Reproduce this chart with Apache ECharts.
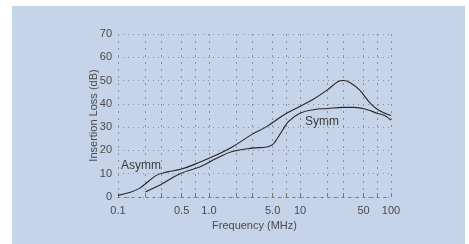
<!DOCTYPE html>
<html>
<head>
<meta charset="utf-8">
<script src="https://cdn.jsdelivr.net/npm/echarts@6/dist/echarts.min.js"></script>
<style>
  html, body { margin: 0; padding: 0; background: #fff; }
  #chart {
    position: absolute;
    left: 12px;
    top: 6px;
    width: 453px;
    height: 238px;
    background: #c6d4ea;
  }
</style>
</head>
<body>
<div id="chart"></div>
<script>
// frequency (MHz) and insertion loss (dB)
const asymmFreq = [0.1, 0.13, 0.17, 0.22, 0.27, 0.35, 0.5, 0.8, 1.2, 1.8, 3, 4.2, 6.5, 9, 14, 20, 26, 30, 36, 45, 60, 75, 100]
const asymmLoss = [0.7, 1.8, 3.6, 7, 9.5, 10.8, 12, 15, 18, 21.5, 27, 30, 35, 38, 42, 46, 49.5, 50, 49, 46, 40, 37, 35]

const symmFreq = [0.2, 0.3, 0.48, 0.8, 1.2, 1.8, 3, 4.3, 5, 5.6, 6.5, 7.5, 10, 14, 20, 30, 40, 55, 70, 85, 100]
const symmLoss = [2.2, 5.5, 10, 13, 16.5, 19.5, 21, 21.5, 22.5, 25, 29, 32.5, 36, 37.5, 38, 38.5, 38.5, 37.5, 36, 35, 33]

const freqTicks = [0.1, 0.5, 1, 5, 10, 50, 100]
const freqTickText = ['0.1', '0.5', '1.0', '5.0', '10', '50', '100']
const gridFreqs = [0.1, 0.2, 0.3, 0.5, 0.7, 1, 2, 3, 5, 7, 10, 20, 30, 50, 70, 100]

const chart = echarts.init(document.getElementById('chart'))

const font = 'Liberation Sans'
const textColor = '#4a4a4a'
const lineStyle = { color: '#262626', width: 1.1 }

chart.setOption({
  animation: false,
  grid: { left: 106, right: 74, top: 28, bottom: 47 },
  xAxis: {
    type: 'log',
    logBase: 10,
    min: 0.1,
    max: 100,
    name: 'Frequency (MHz)',
    nameLocation: 'middle',
    nameGap: 20,
    nameTextStyle: { color: textColor, fontSize: 11, fontFamily: font },
    axisLine: { show: true, lineStyle: { color: '#777', type: [2, 5] } },
    axisTick: { show: true, customValues: gridFreqs, inside: true, length: 4, lineStyle: { color: '#777' } },
    axisLabel: {
      customValues: freqTicks,
      color: textColor,
      fontSize: 11,
      fontFamily: font,
      margin: 8,
      formatter: (v) => {
        const i = freqTicks.findIndex((t) => Math.abs(t - v) < 1e-6)
        return i >= 0 ? freqTickText[i] : ''
      },
    },
    splitLine: { show: true, lineStyle: { color: '#8a8f98', type: [2, 5], width: 1 } },
  },
  yAxis: {
    type: 'value',
    min: 0,
    max: 70,
    interval: 10,
    name: 'Insertion Loss (dB)',
    nameLocation: 'middle',
    nameGap: 19,
    nameMoveOverlap: false,
    nameTextStyle: { color: textColor, fontSize: 11, fontFamily: font },
    axisLine: { show: false },
    axisTick: { show: false },
    axisLabel: { color: textColor, fontSize: 11, fontFamily: font, margin: 6 },
    splitLine: { show: true, lineStyle: { color: '#8a8f98', type: [1, 4], width: 1 } },
  },
  series: [
    {
      name: 'Asymm',
      type: 'line',
      smooth: 0.4,
      symbol: 'none',
      lineStyle,
      data: asymmFreq.map((f, i) => [f, asymmLoss[i]]),
    },
    {
      name: 'Symm',
      type: 'line',
      smooth: 0.4,
      symbol: 'none',
      lineStyle,
      data: symmFreq.map((f, i) => [f, symmLoss[i]]),
    },
  ],
  graphic: [
    { type: 'text', left: 109, top: 154, style: { text: 'Asymm', fill: '#3a3a3a', fontSize: 12, fontFamily: font } },
    { type: 'text', left: 293, top: 110, style: { text: 'Symm', fill: '#3a3a3a', fontSize: 12, fontFamily: font } },
  ],
})
</script>
</body>
</html>
